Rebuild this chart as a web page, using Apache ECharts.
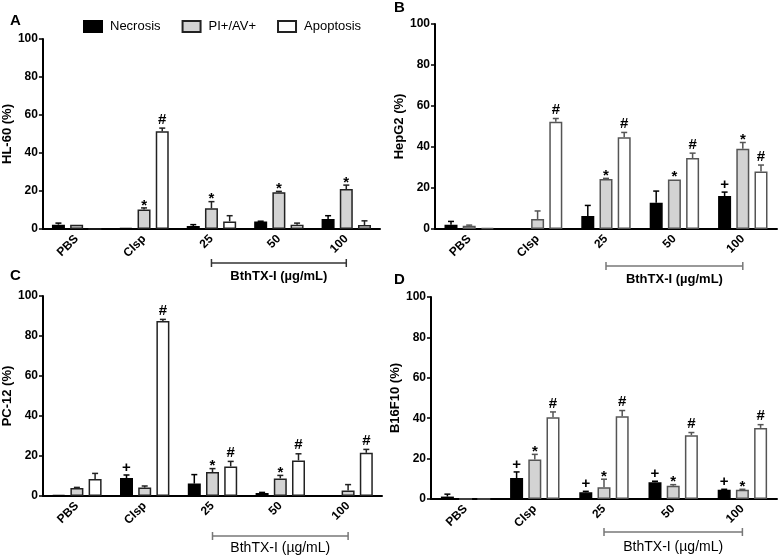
<!DOCTYPE html>
<html>
<head>
<meta charset="utf-8">
<script src="https://cdn.jsdelivr.net/npm/echarts@6/dist/echarts.min.js"></script>
<style>
  html, body { margin: 0; padding: 0; background: #fff; }
  #chart { width: 778px; height: 555px; }
</style>
</head>
<body>
<div id="chart"></div>
<script>
const categories = ['PBS', 'Clsp', '25', '50', '100'];
const seriesNames = ['Necrosis', 'PI+/AV+', 'Apoptosis'];
const yTickMin = 0, yTickMax = 100, yTickStep = 20;
const doseLabel = 'BthTX-I (µg/mL)';

// Panel A: HL-60
const hl60Necrosis = [2.3, 0.5, 1.6, 3.9, 5.3];
const hl60NecrosisErr = [0.8, 0, 0.7, 0.2, 1.7];
const hl60NecrosisMark = ['', '', '', '', ''];
const hl60PiAv = [2.3, 10.2, 10.9, 19.4, 21.0];
const hl60PiAvErr = [0, 0.9, 3.5, 0.4, 2.1];
const hl60PiAvMark = ['', '*', '*', '*', '*'];
const hl60Apoptosis = [0, 51.5, 4.0, 2.3, 2.1];
const hl60ApoptosisErr = [0, 1.6, 3.0, 0.8, 2.2];
const hl60ApoptosisMark = ['', '#', '', '', ''];

// Panel B: HepG2
const hepg2Necrosis = [2.1, 0.3, 6.3, 12.8, 16.1];
const hepg2NecrosisErr = [1.6, 0, 5.2, 5.7, 1.9];
const hepg2NecrosisMark = ['', '', '', '', '+'];
const hepg2PiAv = [1.6, 4.9, 24.4, 24.2, 39.1];
const hepg2PiAvErr = [0.3, 3.9, 0.3, 0, 3.1];
const hepg2PiAvMark = ['', '', '*', '*', '*'];
const hepg2Apoptosis = [0.5, 52.3, 44.8, 34.6, 28.1];
const hepg2ApoptosisErr = [0, 1.6, 2.3, 2.4, 3.1];
const hepg2ApoptosisMark = ['', '#', '#', '#', '#'];

// Panel C: PC-12
const pc12Necrosis = [0.5, 9.0, 6.2, 1.5, 0.3];
const pc12NecrosisErr = [0, 1.5, 4.5, 0.3, 0];
const pc12NecrosisMark = ['', '+', '', '', ''];
const pc12PiAv = [4.0, 4.2, 12.0, 8.8, 2.7];
const pc12PiAvErr = [0.3, 0.8, 1.7, 1.5, 3.0];
const pc12PiAvMark = ['', '', '*', '*', ''];
const pc12Apoptosis = [8.5, 87.5, 14.8, 17.8, 21.6];
const pc12ApoptosisErr = [2.8, 0.8, 2.5, 3.3, 1.7];
const pc12ApoptosisMark = ['', '#', '#', '#', '#'];

// Panel D: B16F10
const b16Necrosis = [1.2, 10.4, 3.3, 8.3, 4.6];
const b16NecrosisErr = [1.2, 3.0, 0.5, 0.5, 0.2];
const b16NecrosisMark = ['', '+', '+', '+', '+'];
const b16PiAv = [0, 19.5, 5.8, 6.6, 4.6];
const b16PiAvErr = [0, 2.6, 4.0, 0.5, 0.2];
const b16PiAvMark = ['', '*', '*', '*', '*'];
const b16Apoptosis = [0, 40.5, 41.0, 31.6, 35.2];
const b16ApoptosisErr = [0, 2.6, 2.8, 1.3, 1.6];
const b16ApoptosisMark = ['', '#', '#', '#', '#'];

const FONT = '"Liberation Sans", Arial, Helvetica, sans-serif';

const panels = [
  { letter: 'A', yName: 'HL-60 (%)', grid: { left: 42, top: 39, width: 338, height: 190 },
    border: '#222', boldDose: true, bracketY: 263, textY: 276, bracketColor: '#333',
    letterPos: [10, 21],
    vals: [hl60Necrosis, hl60PiAv, hl60Apoptosis], errs: [hl60NecrosisErr, hl60PiAvErr, hl60ApoptosisErr],
    marks: [hl60NecrosisMark, hl60PiAvMark, hl60ApoptosisMark] },
  { letter: 'B', yName: 'HepG2 (%)', grid: { left: 435, top: 24, width: 342, height: 205 },
    border: '#555', boldDose: true, bracketY: 266, textY: 279, bracketColor: '#777',
    letterPos: [394, 8],
    vals: [hepg2Necrosis, hepg2PiAv, hepg2Apoptosis], errs: [hepg2NecrosisErr, hepg2PiAvErr, hepg2ApoptosisErr],
    marks: [hepg2NecrosisMark, hepg2PiAvMark, hepg2ApoptosisMark] },
  { letter: 'C', yName: 'PC-12 (%)', grid: { left: 43, top: 296, width: 339, height: 200 },
    border: '#222', boldDose: false, bracketY: 536, textY: 548, bracketColor: '#777',
    letterPos: [10, 276],
    vals: [pc12Necrosis, pc12PiAv, pc12Apoptosis], errs: [pc12NecrosisErr, pc12PiAvErr, pc12ApoptosisErr],
    marks: [pc12NecrosisMark, pc12PiAvMark, pc12ApoptosisMark] },
  { letter: 'D', yName: 'B16F10 (%)', grid: { left: 431, top: 297, width: 346, height: 202 },
    border: '#555', boldDose: false, bracketY: 532, textY: 547, bracketColor: '#777',
    letterPos: [394, 280],
    vals: [b16Necrosis, b16PiAv, b16Apoptosis], errs: [b16NecrosisErr, b16PiAvErr, b16ApoptosisErr],
    marks: [b16NecrosisMark, b16PiAvMark, b16ApoptosisMark] }
];

const BAR_W = 13;
const BAR_GAP_FRAC = 0.4;
const fills = ['#000000', '#d3d3d3', '#ffffff'];
const offsets = [-(BAR_W * (1 + BAR_GAP_FRAC)), 0, BAR_W * (1 + BAR_GAP_FRAC)];

const grids = [], xAxes = [], yAxes = [], series = [];

panels.forEach((p, pi) => {
  grids.push(Object.assign({ containLabel: false }, p.grid));
  xAxes.push({
    type: 'category', gridIndex: pi, data: categories,
    axisLine: { lineStyle: { color: '#000', width: 2 } },
    axisTick: { alignWithLabel: true, length: 4, lineStyle: { color: '#000', width: 1.5 } },
    axisLabel: { rotate: 45, fontWeight: 'bold', fontSize: 12, color: '#000', fontFamily: FONT, margin: 8 },
    splitLine: { show: false }
  });
  yAxes.push({
    type: 'value', gridIndex: pi, min: yTickMin, max: yTickMax, interval: yTickStep,
    name: p.yName, nameLocation: 'middle', nameGap: 24,
    nameTextStyle: { fontWeight: 'bold', fontSize: 13, color: '#000', fontFamily: FONT },
    axisLine: { show: true, lineStyle: { color: '#000', width: 2 } },
    axisTick: { show: true, length: 4, lineStyle: { color: '#000', width: 1.5 } },
    axisLabel: { fontWeight: 'bold', fontSize: 12, color: '#000', fontFamily: FONT, margin: 5 },
    splitLine: { show: false }
  });
  seriesNames.forEach((name, si) => {
    series.push({
      type: 'bar', name: name, xAxisIndex: pi, yAxisIndex: pi,
      data: p.vals[si], barWidth: BAR_W, barGap: (BAR_GAP_FRAC * 100) + '%',
      itemStyle: { color: fills[si], borderColor: si === 0 ? '#000' : p.border, borderWidth: 1.5 },
      emphasis: { disabled: true }, animation: false, z: 2
    });
  });
  seriesNames.forEach((name, si) => {
    const lineColor = si === 0 ? '#000' : p.border;
    const data = p.vals[si].map((v, ci) => [ci, v, p.errs[si][ci]]);
    series.push({
      type: 'custom', xAxisIndex: pi, yAxisIndex: pi, animation: false, silent: true, z: 3,
      data: data, encode: { x: 0, y: 1 },
      renderItem: function (params, api) {
        const ci = api.value(0), v = api.value(1), e = api.value(2);
        const mark = p.marks[si][params.dataIndex];
        const base = api.coord([ci, v]);
        const x = base[0] + offsets[si];
        const top = api.coord([ci, v + e])[1];
        const children = [];
        if (e > 0) {
          children.push({ type: 'line', shape: { x1: x, y1: base[1], x2: x, y2: top },
            style: { stroke: lineColor, lineWidth: 1.5 } });
          children.push({ type: 'line', shape: { x1: x - 3, y1: top, x2: x + 3, y2: top },
            style: { stroke: lineColor, lineWidth: 1.5 } });
        }
        if (mark) {
          const dy = mark === '*' ? 6 : (mark === '+' ? 1 : 0);
          children.push({ type: 'text', style: { text: mark, x: x, y: top - 1 + dy,
            align: 'center', verticalAlign: 'bottom', fill: '#000',
            font: 'bold 15px ' + FONT } });
        }
        return { type: 'group', children: children };
      }
    });
  });
});

const chart = echarts.init(document.getElementById('chart'), null, { renderer: 'canvas' });
chart.setOption({
  animation: false,
  backgroundColor: '#fff',
  legend: {
    data: seriesNames, left: 78, top: 15, itemWidth: 18, itemHeight: 11, itemGap: 21,
    icon: 'rect',
    textStyle: { fontSize: 13, color: '#000', fontFamily: FONT, padding: [0, 0, 0, 3] },
    selectedMode: false
  },
  grid: grids, xAxis: xAxes, yAxis: yAxes, series: series
});

const graphics = [];
panels.forEach((p, pi) => {
  graphics.push({ type: 'text', left: p.letterPos[0], top: p.letterPos[1] - 8,
    style: { text: p.letter, font: 'bold 15px ' + FONT, fill: '#000' } });
  const x1 = chart.convertToPixel({ xAxisIndex: pi }, 2);
  const x2 = chart.convertToPixel({ xAxisIndex: pi }, 4);
  const y = p.bracketY;
  const st = { stroke: p.bracketColor, lineWidth: 1.5 };
  graphics.push({ type: 'line', shape: { x1: x1, y1: y, x2: x2, y2: y }, style: st });
  graphics.push({ type: 'line', shape: { x1: x1, y1: y - 4, x2: x1, y2: y + 4 }, style: st });
  graphics.push({ type: 'line', shape: { x1: x2, y1: y - 4, x2: x2, y2: y + 4 }, style: st });
  graphics.push({ type: 'text', x: (x1 + x2) / 2, y: p.textY,
    style: { text: doseLabel, align: 'center', verticalAlign: 'middle', fill: '#000',
      font: (p.boldDose ? 'bold 13px ' : '14px ') + FONT } });
});
chart.setOption({ graphic: graphics });
</script>
</body>
</html>
